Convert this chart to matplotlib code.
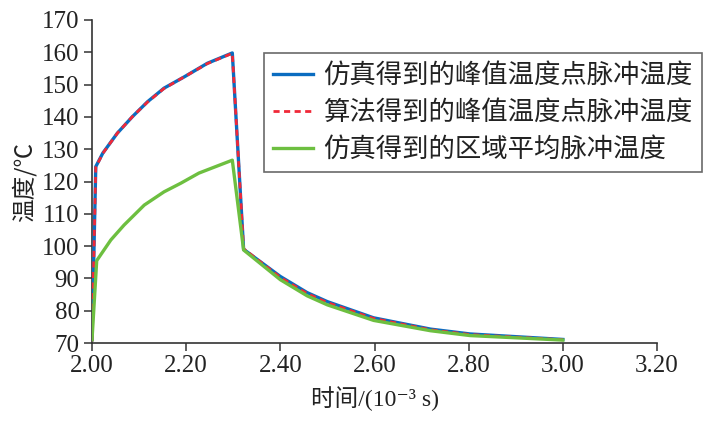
import matplotlib
matplotlib.use("Agg")
import matplotlib.pyplot as plt

# ---- data ----
t_sim = [2.000, 2.008, 2.023, 2.054, 2.086, 2.118, 2.153, 2.196, 2.245, 2.298,
         2.322, 2.400, 2.457, 2.500, 2.598, 2.719, 2.803, 3.000]
peak_sim = [71.0, 124.6, 128.8, 135.0, 140.1, 144.7, 148.9, 152.4, 156.6, 159.8,
            99.0, 90.6, 85.6, 82.8, 77.8, 74.3, 72.8, 71.1]
peak_alg = [70.5, 124.4, 128.7, 135.0, 140.1, 144.6, 148.8, 152.4, 156.5, 159.7,
            99.2, 90.3, 85.3, 82.5, 77.6, 74.1, 72.6, 71.0]
t_avg = [2.000, 2.010, 2.040, 2.068, 2.111, 2.153, 2.189, 2.227, 2.298,
         2.322, 2.400, 2.457, 2.500, 2.598, 2.719, 2.803, 3.000]
avg_sim = [71.0, 95.5, 101.9, 106.5, 112.7, 116.8, 119.5, 122.6, 126.6,
           98.8, 89.6, 84.6, 81.8, 77.0, 73.8, 72.3, 70.9]

labels = ["仿真得到的峰值温度点脉冲温度",
          "算法得到的峰值温度点脉冲温度",
          "仿真得到的区域平均脉冲温度"]
xticks = [2.00, 2.20, 2.40, 2.60, 2.80, 3.00, 3.20]
yticks = [70, 80, 90, 100, 110, 120, 130, 140, 150, 160, 170]

FAM = ['Liberation Serif', 'Noto Sans CJK SC', 'DejaVu Sans']
plt.rcParams['font.family'] = FAM

fig = plt.figure(figsize=(7.1, 4.3), dpi=100)
ax = fig.add_axes([92/710, 1-343/430, (657-92)/710, (343-20)/430])

ax.plot(t_sim, peak_sim, color='#0a6cc0', lw=2.4, label=labels[0], zorder=3)
ax.plot(t_sim, peak_alg, color='#f02838', lw=2.0, ls=(0, (2.2, 1.6)), label=labels[1], zorder=4)
ax.plot(t_avg, avg_sim, color='#6dbf40', lw=2.4, label=labels[2], zorder=5)

ax.set_xlim(2.0, 3.2)
ax.set_ylim(70, 170)
ax.set_xticks(xticks)
ax.set_xticklabels([f"{v:.2f}" for v in xticks])
ax.set_yticks(yticks)
ax.set_yticklabels([str(v) for v in yticks])

for s in ['top', 'right']:
    ax.spines[s].set_visible(False)
for s in ['left', 'bottom']:
    ax.spines[s].set_color('#333333')
    ax.spines[s].set_linewidth(1.2)
ax.tick_params(axis='both', direction='out', length=6, width=1.1, color='#333333',
               labelsize=18, labelcolor='#222222', pad=3)
for lab in ax.get_xticklabels() + ax.get_yticklabels():
    lab.set_family('Liberation Serif')

ax.set_xlabel('时间/(10⁻³ s)', fontsize=17, color='#222222', labelpad=6, family=FAM)
ax.set_ylabel('温度/℃', fontsize=17, color='#222222', labelpad=4,
              family=['Noto Sans CJK SC', 'DejaVu Sans'])

leg = ax.legend(loc='upper left', bbox_to_anchor=((264-92)/565, (343-52.7)/323),
                borderaxespad=0, fancybox=False, frameon=True,
                prop={'family': ['Noto Sans CJK SC', 'DejaVu Sans'], 'size': 19},
                handlelength=1.5, handletextpad=0.4, labelspacing=0.38,
                borderpad=0.35)
leg.get_frame().set_edgecolor('#444444')
leg.get_frame().set_linewidth(1.2)
for txt in leg.get_texts():
    txt.set_color('#222222')

fig.savefig('out.png', dpi=100)
